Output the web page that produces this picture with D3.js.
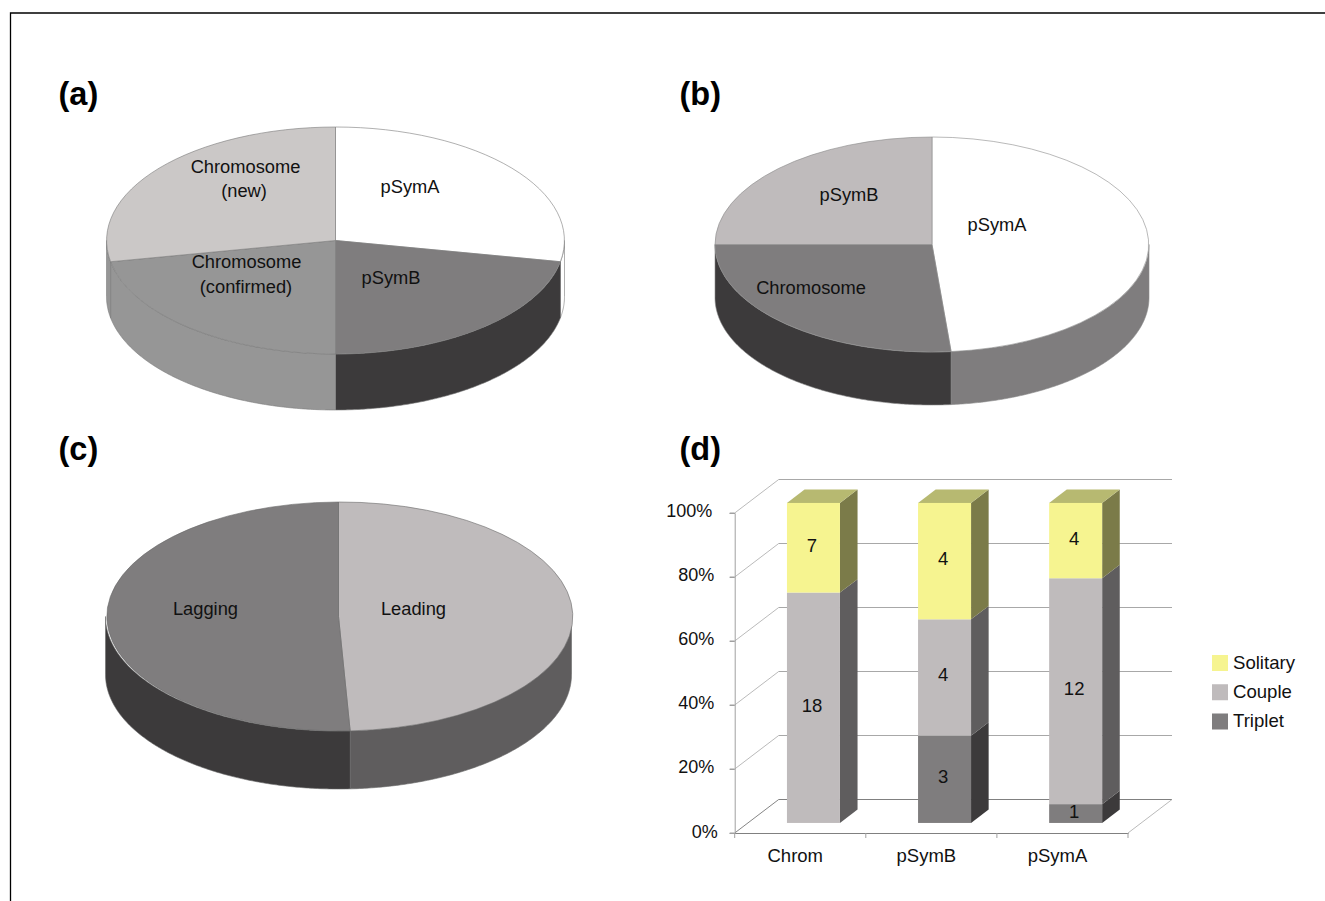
<!DOCTYPE html>
<html>
<head>
<meta charset="utf-8">
<script src="https://cdn.jsdelivr.net/npm/d3@7"></script>
<style>
  html, body { margin: 0; padding: 0; background: #fff; }
  text { font-family: "Liberation Sans", Arial, sans-serif; fill: #111; }
</style>
</head>
<body>
<svg id="svg1" width="1325" height="901"></svg>
<script>
// pie (a)
var pieANames = ["pSymA", "pSymB", "Chromosome (confirmed)", "Chromosome (new)"];
var pieAValues = [28, 22, 22, 28];
// pie (b)
var pieBNames = ["pSymA", "Chromosome", "pSymB"];
var pieBValues = [48.6, 26.4, 25];
// pie (c)
var pieCNames = ["Leading", "Lagging"];
var pieCValues = [49.2, 50.8];
// stacked bars (d)
var barCats = ["Chrom", "pSymB", "pSymA"];
var tripletValues = [0, 3, 1];
var coupleValues = [18, 4, 12];
var solitaryValues = [7, 4, 4];
var seriesNames = ["Triplet", "Couple", "Solitary"];
var yTicks = [0, 0.2, 0.4, 0.6, 0.8, 1];

var svg = d3.select("#svg1");

// frame round the figure
svg.append("path")
    .attr("d", "M10.5,901V13H1325")
    .attr("fill", "none")
    .attr("stroke", "#000")
    .attr("stroke-width", 1.3);

function panelLetter(txt, x, y) {
    svg.append("text")
        .attr("x", x).attr("y", y)
        .attr("font-size", 32.5).attr("font-weight", "bold")
        .attr("fill", "#000").style("fill", "#000")
        .text(txt);
}
panelLetter("(a)", 58.5, 105);
panelLetter("(b)", 679.5, 105);
panelLetter("(c)", 58.5, 460);
panelLetter("(d)", 679.5, 460);

// draws a tilted pie: top slices from d3.pie/d3.arc, front wall from d3.line
function drawPie(opt) {
    var g = svg.append("g");
    var slices = d3.pie().sort(null)(opt.values);

    var wall = d3.line()
        .x(function (p) { return opt.cx + opt.rx * Math.sin(p[0]); })
        .y(function (p) { return opt.cy - opt.ry * Math.cos(p[0]) + p[1]; });

    slices.forEach(function (s, i) {
        var a0 = Math.max(s.startAngle, Math.PI / 2);
        var a1 = Math.min(s.endAngle, 3 * Math.PI / 2);
        if (a1 <= a0) return;
        var angles = d3.range(a0, a1, 0.01).concat([a1]);
        var pts = angles.map(function (a) { return [a, 0]; })
            .concat(angles.slice().reverse().map(function (a) { return [a, opt.depth]; }));
        g.append("path")
            .attr("d", wall(pts) + "Z")
            .attr("fill", opt.sideColors[i])
            .attr("stroke", opt.stroke)
            .attr("stroke-width", 0.6);
    });

    var arc = d3.arc().innerRadius(0).outerRadius(1);
    g.append("g")
        .attr("transform", "translate(" + opt.cx + "," + opt.cy + ") scale(" + opt.rx + "," + opt.ry + ")")
        .selectAll("path")
        .data(slices)
        .enter().append("path")
        .attr("d", arc)
        .attr("fill", function (d, i) { return opt.topColors[i]; })
        .attr("stroke", opt.stroke)
        .attr("stroke-width", 0.6)
        .attr("vector-effect", "non-scaling-stroke");

    opt.labels.forEach(function (l) {
        g.append("text")
            .attr("x", l[1]).attr("y", l[2])
            .attr("text-anchor", "middle")
            .attr("dominant-baseline", "central")
            .attr("font-size", 18.3)
            .text(l[0]);
    });
}

drawPie({
    values: pieAValues,
    cx: 335.5, cy: 240.5, rx: 229, ry: 113.5, depth: 56,
    topColors: ["#ffffff", "#7f7d7e", "#969696", "#cbc8c7"],
    sideColors: ["#ffffff", "#3c3a3b", "#969696", "#969696"],
    stroke: "#7a7a7a",
    labels: [["Chromosome", 245.5, 166], ["(new)", 244, 190], ["pSymA", 410, 186],
             ["Chromosome", 246.5, 261], ["(confirmed)", 246, 286], ["pSymB", 391, 277]]
});

drawPie({
    values: pieBValues,
    cx: 932, cy: 244.5, rx: 217, ry: 107.5, depth: 53,
    topColors: ["#ffffff", "#7f7d7e", "#bfbbbc"],
    sideColors: ["#7f7d7e", "#3c3a3b", "#5f5d5e"],
    stroke: "#8a8a8a",
    labels: [["pSymB", 849, 194], ["pSymA", 997, 224], ["Chromosome", 811, 287]]
});

drawPie({
    values: pieCValues,
    cx: 338.5, cy: 616.5, rx: 233, ry: 114.5, depth: 58,
    topColors: ["#bfbbbc", "#7f7d7e"],
    sideColors: ["#5f5d5e", "#3c3a3b"],
    stroke: "#6a6a6a",
    labels: [["Lagging", 205.5, 608], ["Leading", 413.5, 608]]
});

// ---- panel (d), 3D stacked columns ----
var x0 = 734.7, x1 = 1128;        // front edge of the floor
var y0 = 833, y100 = 513;         // front of the y axis
var depthX = 44, depthY = -33.5;  // shift to back wall

var xBand = d3.scaleBand().domain(barCats).range([x0, x1]);
var yScale = d3.scaleLinear().domain([0, 1]).range([y0, y100]);

var gd = svg.append("g");

// back wall gridlines and left wall diagonals
yTicks.forEach(function (t) {
    var y = yScale(t);
    var col = t == 0 ? "#808080" : "#a8a8a8";
    gd.append("line")
        .attr("x1", x0 + depthX).attr("x2", x1 + depthX)
        .attr("y1", y + depthY).attr("y2", y + depthY)
        .attr("stroke", col).attr("stroke-width", 1);
    gd.append("line")
        .attr("x1", x0).attr("x2", x0 + depthX)
        .attr("y1", y).attr("y2", y + depthY)
        .attr("stroke", t == 0 ? "#666" : "#a8a8a8").attr("stroke-width", 0.8);
    gd.append("line")
        .attr("x1", x0 - 5).attr("x2", x0)
        .attr("y1", y).attr("y2", y)
        .attr("stroke", "#a0a0a0").attr("stroke-width", 1);
});
// right floor edge
gd.append("line")
    .attr("x1", x1).attr("x2", x1 + depthX)
    .attr("y1", y0).attr("y2", y0 + depthY)
    .attr("stroke", "#a8a8a8").attr("stroke-width", 0.8);

// axes, from d3.axis
var yAxisG = gd.append("g").attr("transform", "translate(" + x0 + ",0)")
    .call(d3.axisLeft(yScale).tickValues(yTicks).tickSize(5).tickFormat(d3.format(".0%")));
yAxisG.select(".domain").attr("stroke", "#a0a0a0");
yAxisG.selectAll(".tick line").attr("stroke", "#a0a0a0");
yAxisG.selectAll(".tick text")
    .attr("font-size", 18)
    .attr("font-family", null)
    .attr("x", function (d) { return d == 1 ? -22.5 : d == 0 ? -17 : -20.5; })
    .attr("y", function (d) { return d == 0 ? -1 : -2; })
    .style("fill", "#111");

var xAxisG = gd.append("g").attr("transform", "translate(0," + y0 + ")")
    .call(d3.axisBottom(xBand).tickSize(0));
xAxisG.select(".domain").attr("stroke", "#808080");
xAxisG.selectAll(".tick text")
    .attr("font-size", 18.5)
    .attr("font-family", null)
    .attr("dx", -5)
    .attr("y", 15.5)
    .style("fill", "#111");
// category separators under the floor
barCats.concat([null]).forEach(function (c) {
    var x = c === null ? x1 : xBand(c);
    gd.append("line")
        .attr("x1", x).attr("x2", x)
        .attr("y1", y0).attr("y2", y0 + 5)
        .attr("stroke", "#a0a0a0").attr("stroke-width", 1);
});

// stacked bars
var barRows = barCats.map(function (c, i) {
    return { cat: c, Triplet: tripletValues[i], Couple: coupleValues[i], Solitary: solitaryValues[i] };
});
var stacked = d3.stack().keys(seriesNames).offset(d3.stackOffsetExpand)(barRows);

var frontColors = { Triplet: "#7f7d7e", Couple: "#bfbbbc", Solitary: "#f6f490" };
var sideColors = { Triplet: "#3c3a3b", Couple: "#5f5d5e", Solitary: "#7b7b49" };
var topColor = "#b7b971";

var barW = 53;
var fr0 = 0.3, fr1 = 0.7;   // where the bars stand between front and back of floor
var sx = depthX * (fr1 - fr0), sy = depthY * (fr1 - fr0);

function barLeft(cat) {
    return xBand(cat) + xBand.bandwidth() / 2 + depthX * fr0 - barW / 2;
}
function barY(v) { return yScale(v) + depthY * fr0; }

stacked.forEach(function (ser) {
    ser.forEach(function (d, i) {
        if (d[1] - d[0] <= 0) return;
        var cat = barCats[i];
        var xl = barLeft(cat), xr = xl + barW;
        var yb = barY(d[0]), yt = barY(d[1]);
        gd.append("path")
            .attr("d", d3.line()([[xr, yb], [xr + sx, yb + sy], [xr + sx, yt + sy], [xr, yt]]) + "Z")
            .attr("fill", sideColors[ser.key]);
        if (d[1] == 1) {
            gd.append("path")
                .attr("d", d3.line()([[xl, yt], [xr, yt], [xr + sx, yt + sy], [xl + sx, yt + sy]]) + "Z")
                .attr("fill", topColor);
        }
        gd.append("rect")
            .attr("x", xl).attr("y", yt)
            .attr("width", barW).attr("height", yb - yt)
            .attr("fill", frontColors[ser.key]);
        gd.append("text")
            .attr("x", xl + barW / 2 - 1.5)
            .attr("y", (yb + yt) / 2 - 2.5)
            .attr("text-anchor", "middle")
            .attr("dominant-baseline", "central")
            .attr("font-size", 18.5)
            .text(d.data[ser.key]);
    });
});

// legend, top entry is the last series
var legendScale = d3.scalePoint().domain(seriesNames.slice().reverse()).range([663, 721.5]);
seriesNames.forEach(function (k) {
    gd.append("rect")
        .attr("x", 1212).attr("y", legendScale(k) - 8)
        .attr("width", 16).attr("height", 16)
        .attr("fill", frontColors[k]);
    gd.append("text")
        .attr("x", 1233).attr("y", legendScale(k) - 1)
        .attr("dominant-baseline", "central")
        .attr("font-size", 18.6)
        .text(k);
});
</script>
</body>
</html>
